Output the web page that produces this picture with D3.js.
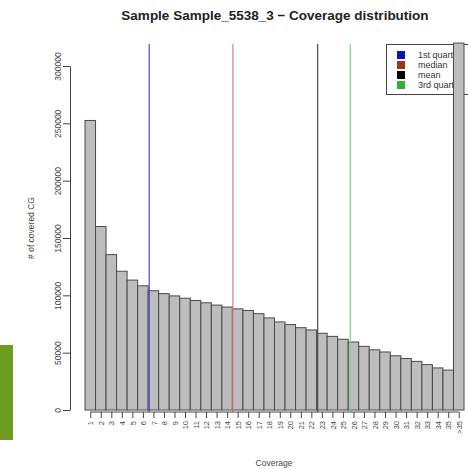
<!DOCTYPE html>
<html>
<head>
<meta charset="utf-8">
<script src="https://cdn.jsdelivr.net/npm/d3@7"></script>
<style>
  body { margin: 0; background: #fff; }
  text { font-family: "Liberation Sans", Arial, sans-serif; }
</style>
</head>
<body>
<div id="chart"></div>
<script>
// Data
const coverage = ["1","2","3","4","5","6","7","8","9","10","11","12","13","14","15","16","17","18",
  "19","20","21","22","23","24","25","26","27","28","29","30","31","32","33","34","35",">35"];
const coveredCG = [252500, 160000, 135500, 121000, 113300, 108300, 104000, 101500, 99500, 97500,
  95500, 93500, 91500, 89800, 88200, 86800, 84000, 80300, 76800, 74500,
  71800, 69800, 66900, 64200, 61700, 59300, 55500, 52500, 50600, 47300,
  44900, 42400, 39600, 36700, 34800, 320000];
const statNames = ["1st quartile", "median", "mean", "3rd quartile"];
const statValues = [6.1, 14.05, 22.1, 25.2];
const yTicks = [0, 50000, 100000, 150000, 200000, 250000, 300000];

const lineColors = ["#4646cf", "#e07c7c", "#4a4a4a", "#84d184"];
const keyColors = ["#1212b0", "#a33322", "#000000", "#2fb02f"];

const W = 468, H = 469;
const plotTop = 44, plotBottom = 412;

const svg = d3.select("#chart")
  .append("svg")
  .attr("width", W)
  .attr("height", H);

// scales (bar i spans [i, i+1])
const x = d3.scaleLinear().domain([0, coverage.length]).range([85, 464]);
const y = d3.scaleLinear().domain([0, 300000]).range([410, 66]);

// stray green block on the left edge
svg.append("rect")
  .attr("x", 0).attr("y", 345)
  .attr("width", 13).attr("height", 95)
  .attr("fill", "#6e9b22");

// title
svg.append("text")
  .attr("x", 275).attr("y", 20)
  .attr("text-anchor", "middle")
  .style("font-size", "13.5px")
  .style("font-weight", "bold")
  .attr("fill", "#222")
  .text("Sample Sample_5538_3 \u2212 Coverage distribution");

// legend (drawn first, the last bar sits over it)
const legend = svg.append("g").attr("transform", "translate(386,44)");
legend.append("rect")
  .attr("x", 0.5).attr("y", 0.5)
  .attr("width", 120).attr("height", 50)
  .attr("fill", "#fff")
  .attr("stroke", "#444");
const key = legend.selectAll(".key")
  .data(statNames)
  .join("g")
  .attr("class", "key")
  .attr("transform", (d, i) => `translate(0,${11 + i * 10})`);
key.append("rect")
  .attr("x", 11).attr("y", -4)
  .attr("width", 8).attr("height", 8)
  .attr("fill", (d, i) => keyColors[i]);
key.append("text")
  .attr("x", 32).attr("dy", "0.35em")
  .style("font-size", "9px")
  .attr("fill", "#333")
  .text(d => d);

// bars
svg.selectAll(".bar")
  .data(coveredCG)
  .join("rect")
  .attr("class", "bar")
  .attr("x", (d, i) => x(i))
  .attr("y", d => y(d))
  .attr("width", (d, i) => x(i + 1) - x(i))
  .attr("height", d => y(0) - y(d))
  .attr("fill", "#bdbdbd")
  .attr("stroke", "#4a4a4a")
  .attr("stroke-width", 1);

// quartile / median / mean lines
svg.selectAll(".stat")
  .data(statValues)
  .join("line")
  .attr("class", "stat")
  .attr("x1", d => x(d)).attr("x2", d => x(d))
  .attr("y1", plotTop).attr("y2", plotBottom)
  .attr("stroke", (d, i) => lineColors[i])
  .attr("stroke-width", 1.2);

// y axis
const yAxis = svg.append("g")
  .attr("transform", "translate(70,0)")
  .call(d3.axisLeft(y).tickValues(yTicks).tickFormat(d3.format("d")).tickSize(7).tickSizeOuter(0));
yAxis.select(".domain").attr("stroke", "#444");
yAxis.selectAll(".tick line").attr("stroke", "#444");
yAxis.selectAll(".tick text")
  .attr("transform", "rotate(-90)")
  .attr("x", 0).attr("y", -12).attr("dy", "0.35em")
  .attr("text-anchor", "middle")
  .style("font-size", "8.5px")
  .attr("fill", "#444");

// x axis
const centers = coverage.map((c, i) => i + 0.5);
const xAxis = svg.append("g")
  .attr("transform", `translate(0,${plotBottom})`)
  .call(d3.axisBottom(x).tickValues(centers).tickFormat((d, i) => coverage[i]).tickSize(6));
xAxis.select(".domain").remove();
xAxis.append("line")
  .attr("x1", x(centers[0])).attr("x2", x(centers[centers.length - 1]))
  .attr("stroke", "#444");
xAxis.selectAll(".tick line").attr("stroke", "#444");
xAxis.selectAll(".tick text")
  .attr("transform", "rotate(-90)")
  .attr("x", -9).attr("y", 0).attr("dy", "0.35em")
  .attr("text-anchor", "end")
  .style("font-size", "7.5px")
  .attr("fill", "#444");

// axis titles
svg.append("text")
  .attr("transform", "translate(34,228) rotate(-90)")
  .attr("text-anchor", "middle")
  .style("font-size", "8.5px")
  .attr("fill", "#444")
  .text("# of covered CG");

svg.append("text")
  .attr("x", 274).attr("y", 466)
  .attr("text-anchor", "middle")
  .style("font-size", "8.5px")
  .attr("fill", "#444")
  .text("Coverage");
</script>
</body>
</html>
